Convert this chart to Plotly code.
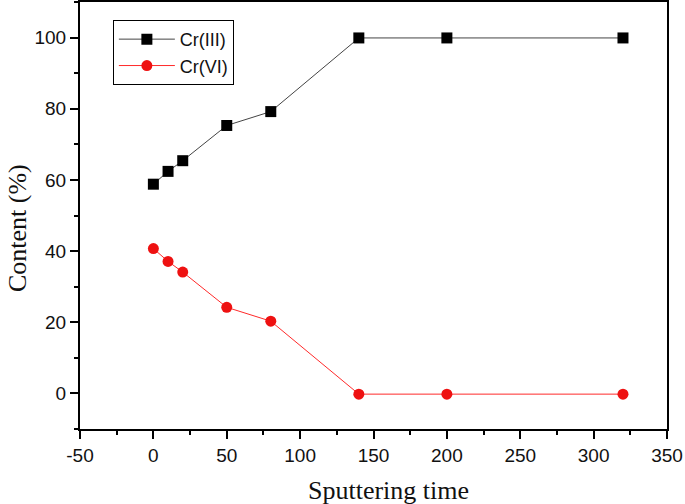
import plotly.graph_objects as go

time = [0, 10, 20, 50, 80, 140, 200, 320]
cr3 = [58.8, 62.4, 65.4, 75.3, 79.2, 99.9, 99.9, 99.9]
cr6 = [40.7, 37.1, 34.1, 24.2, 20.3, -0.2, -0.2, -0.2]

x_ticks = [-50, 0, 50, 100, 150, 200, 250, 300, 350]
x_ticktext = ["-50", "0", "50", "100", "150", "200", "250", "300", "350"]
y_ticks = [0, 20, 40, 60, 80, 100]
y_ticktext = ["0", "20", "40", "60", "80", "100"]

fig = go.Figure()
fig.add_trace(go.Scatter(x=time, y=cr3, mode="lines+markers", name="Cr(III)",
                         line=dict(color="#444444", width=1),
                         marker=dict(symbol="square", size=11, color="black")))
fig.add_trace(go.Scatter(x=time, y=cr6, mode="lines+markers", name="Cr(VI)",
                         line=dict(color="#ff2a2a", width=1),
                         marker=dict(symbol="circle", size=11, color="#ee1111")))

axis_common = dict(showline=True, linecolor="black", linewidth=2, mirror=True,
                   showgrid=False, zeroline=False, ticks="outside", ticklen=8,
                   tickwidth=1.5, tickcolor="black", automargin=False,
                   tickfont=dict(family="Liberation Sans, Arial", size=19, color="#111"))

serif = dict(family="Liberation Serif, Times New Roman", size=26, color="#111")

fig.update_layout(
    width=685, height=504,
    margin=dict(l=80, r=18, t=2, b=75),
    paper_bgcolor="white", plot_bgcolor="white",
    xaxis=dict(range=[-50, 350], tickvals=x_ticks, ticktext=x_ticktext,
               minor=dict(ticks="outside", ticklen=4, dtick=25, tickcolor="black", tickwidth=1.5),
               **axis_common),
    yaxis=dict(range=[-10, 110], tickvals=y_ticks, ticktext=y_ticktext,
               minor=dict(ticks="outside", ticklen=4, dtick=10, tickcolor="black", tickwidth=1.5),
               **axis_common),
    legend=dict(x=0.056, y=0.958, xanchor="left", yanchor="top",
                bordercolor="black", borderwidth=1, bgcolor="white",
                font=dict(family="Liberation Sans, Arial", size=18, color="#111"),
                itemwidth=56, tracegroupgap=0),
    showlegend=True,
    annotations=[
        dict(text="Sputtering time", xref="paper", yref="paper", x=0.525, y=-0.145,
             xanchor="center", yanchor="middle", showarrow=False, font=serif),
        dict(text="Content (%)", xref="paper", yref="paper", x=-0.106, y=0.47,
             xanchor="center", yanchor="middle", showarrow=False, font=serif, textangle=-90),
    ],
)

fig.write_html("out.html", config={"displayModeBar": False},
               post_script="document.body.style.margin='0';document.body.style.overflow='hidden';")
